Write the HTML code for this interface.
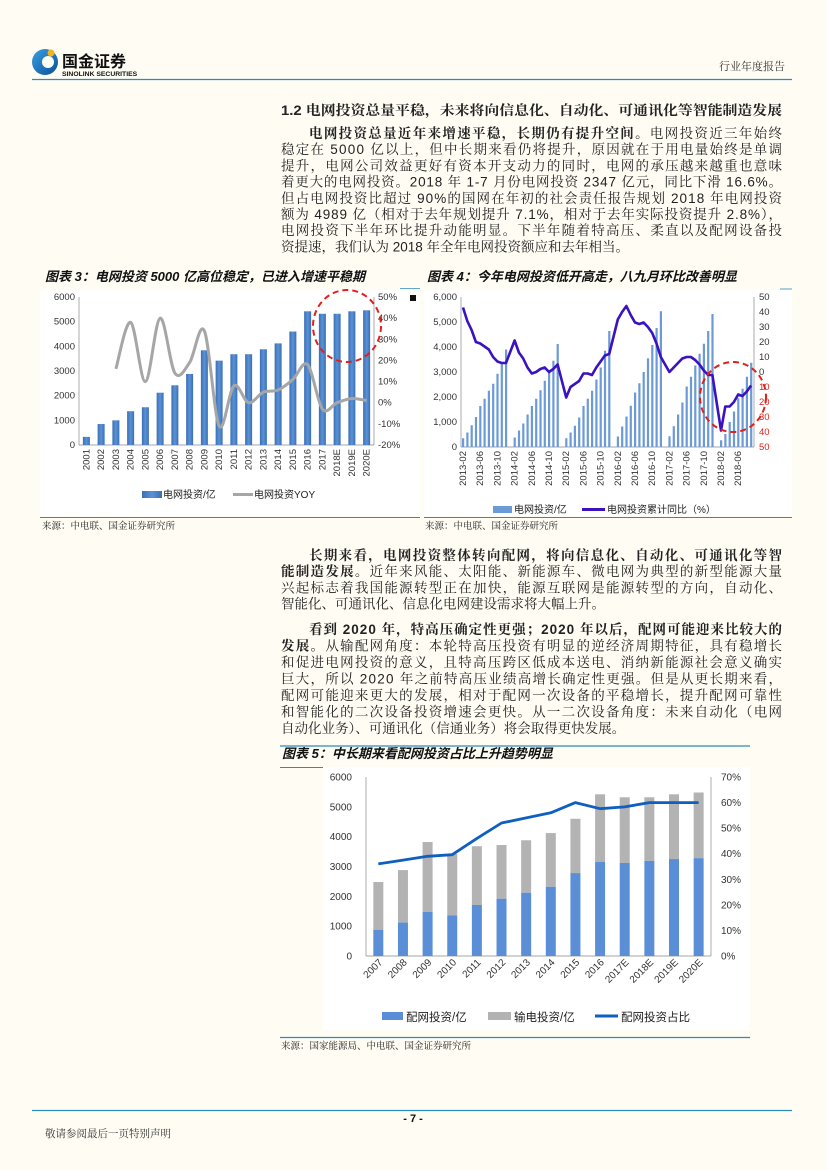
<!DOCTYPE html>
<html><head><meta charset="utf-8">
<style>
html,body{margin:0;padding:0;background:#fffcf3;}
svg{display:block;}
text{font-family:"Liberation Sans","Noto Sans CJK SC",sans-serif;}
.s{font-family:"Noto Serif CJK SC","Liberation Serif",serif;}
.p{font-family:"Liberation Sans","Noto Serif CJK SC",serif;font-size:13.5px;fill:#222;}
.b{font-weight:bold;}
.ax{font-size:9.5px;fill:#333;}
.ax5{font-size:10px;fill:#333;}
.tt{font-family:"Liberation Sans","Noto Sans CJK SC",sans-serif;font-weight:bold;font-style:italic;font-size:13px;fill:#111;}
</style></head><body>
<svg id="pg" width="827" height="1170" viewBox="0 0 827 1170" xmlns="http://www.w3.org/2000/svg">
<rect width="827" height="1170" fill="#fffcf3"/>
<!-- header -->
<defs><linearGradient id="lg" x1="0" y1="0" x2="1" y2="1"><stop offset="0" stop-color="#3aa0e0"/><stop offset="1" stop-color="#0a4f9a"/></linearGradient>
<linearGradient id="bg3" x1="0" y1="0" x2="1" y2="0"><stop offset="0" stop-color="#3a6fb5"/><stop offset="0.5" stop-color="#5b92d6"/><stop offset="1" stop-color="#3a6fb5"/></linearGradient></defs>
<circle cx="45" cy="62" r="13" fill="url(#lg)"/>
<circle cx="48" cy="62" r="6" fill="#fffcf3"/>
<circle cx="51" cy="53" r="3.5" fill="#f2b31b"/>
<text x="62" y="67" font-size="16" font-weight="bold" fill="#111">国金证券</text>
<text x="62" y="76" font-size="6.8" font-weight="bold" fill="#111">SINOLINK SECURITIES</text>
<text x="785" y="70" font-size="11" text-anchor="end" class="s" fill="#333">行业年度报告</text>
<line x1="32" y1="79.5" x2="792" y2="79.5" stroke="#2a8dc0" stroke-width="1.2"/>

<!-- top text -->
<text x="281" y="115" class="p b" textLength="501" lengthAdjust="spacingAndGlyphs">1.2 电网投资总量平稳，未来将向信息化、自动化、可通讯化等智能制造发展</text>
<text x="309" y="138" class="p" textLength="473" lengthAdjust="spacing"><tspan class="b">电网投资总量近年来增速平稳，长期仍有提升空间。</tspan>电网投资近三年始终</text>
<text x="281" y="154.2" class="p" textLength="501" lengthAdjust="spacing">稳定在 5000 亿以上，但中长期来看仍将提升，原因就在于用电量始终是单调</text>
<text x="281" y="170.4" class="p" textLength="501" lengthAdjust="spacing">提升，电网公司效益更好有资本开支动力的同时，电网的承压越来越重也意味</text>
<text x="281" y="186.6" class="p" textLength="501" lengthAdjust="spacing">着更大的电网投资。2018 年 1-7 月份电网投资 2347 亿元，同比下滑 16.6%。</text>
<text x="281" y="202.8" class="p" textLength="501" lengthAdjust="spacing">但占电网投资比超过 90%的国网在年初的社会责任报告规划 2018 年电网投资</text>
<text x="281" y="219" class="p" textLength="501" lengthAdjust="spacing">额为 4989 亿（相对于去年规划提升 7.1%，相对于去年实际投资提升 2.8%），</text>
<text x="281" y="235.2" class="p" textLength="501" lengthAdjust="spacing">电网投资下半年环比提升动能明显。下半年随着特高压、柔直以及配网设备投</text>
<text x="281" y="251.4" class="p">资提速，我们认为 2018 年全年电网投资额应和去年相当。</text>

<!-- chart 3 & 4 frames -->
<rect x="40" y="290" width="380" height="226" fill="#fff"/>
<rect x="424" y="290" width="368" height="226" fill="#fff"/>
<text x="45" y="281" class="tt">图表 3：电网投资 5000 亿高位稳定，已进入增速平稳期</text>
<text x="427" y="281" class="tt">图表 4：今年电网投资低开高走，八九月环比改善明显</text>
<line x1="400" y1="288.5" x2="420" y2="288.5" stroke="#2a8dc0" stroke-width="0.8"/>
<line x1="780" y1="289" x2="792" y2="289" stroke="#2a8dc0" stroke-width="0.8"/>
<line x1="40" y1="517.5" x2="420" y2="517.5" stroke="#2a8dc0" stroke-width="1"/>
<line x1="424" y1="517.5" x2="792" y2="517.5" stroke="#2a8dc0" stroke-width="1"/>
<text x="42" y="529" font-size="9.5" class="s" fill="#222">来源：中电联、国金证券研究所</text>
<text x="425" y="529" font-size="9.5" class="s" fill="#222">来源：中电联、国金证券研究所</text>

<!-- chart3 axes -->
<line x1="79" y1="297" x2="79" y2="445" stroke="#888" stroke-width="0.7"/>
<line x1="79" y1="445" x2="374" y2="445" stroke="#888" stroke-width="0.7"/>
<line x1="374" y1="297" x2="374" y2="445" stroke="#888" stroke-width="0.7"/>
<g class="ax" text-anchor="end">
<text x="75" y="300">6000</text><text x="75" y="324.7">5000</text><text x="75" y="349.3">4000</text><text x="75" y="374">3000</text><text x="75" y="398.7">2000</text><text x="75" y="423.3">1000</text><text x="75" y="448">0</text>
</g>
<g class="ax">
<text x="378" y="300">50%</text><text x="378" y="321.1">40%</text><text x="378" y="342.3">30%</text><text x="378" y="363.4">20%</text><text x="378" y="384.6">10%</text><text x="378" y="405.7">0%</text><text x="378" y="426.9">-10%</text><text x="378" y="448">-20%</text>
</g>
<rect x="410" y="295" width="6" height="6" fill="#111"/>
<g id="c3"></g>
<g class="ax" text-anchor="end" font-size="9">
<text transform="translate(89.4,449) rotate(-90)">2001</text>
<text transform="translate(104.1,449) rotate(-90)">2002</text>
<text transform="translate(118.9,449) rotate(-90)">2003</text>
<text transform="translate(133.6,449) rotate(-90)">2004</text>
<text transform="translate(148.4,449) rotate(-90)">2005</text>
<text transform="translate(163.1,449) rotate(-90)">2006</text>
<text transform="translate(177.9,449) rotate(-90)">2007</text>
<text transform="translate(192.6,449) rotate(-90)">2008</text>
<text transform="translate(207.4,449) rotate(-90)">2009</text>
<text transform="translate(222.1,449) rotate(-90)">2010</text>
<text transform="translate(236.9,449) rotate(-90)">2011</text>
<text transform="translate(251.6,449) rotate(-90)">2012</text>
<text transform="translate(266.4,449) rotate(-90)">2013</text>
<text transform="translate(281.1,449) rotate(-90)">2014</text>
<text transform="translate(295.9,449) rotate(-90)">2015</text>
<text transform="translate(310.6,449) rotate(-90)">2016</text>
<text transform="translate(325.4,449) rotate(-90)">2017</text>
<text transform="translate(340.1,449) rotate(-90)">2018E</text>
<text transform="translate(354.9,449) rotate(-90)">2019E</text>
<text transform="translate(369.6,449) rotate(-90)">2020E</text>
</g>
<ellipse cx="347" cy="326" rx="34" ry="36" fill="none" stroke="#e0201b" stroke-width="2" stroke-dasharray="6,4"/>
<rect x="142" y="491" width="20" height="7" fill="url(#bg3)"/>
<text x="163" y="498" font-size="10" fill="#222">电网投资/亿</text>
<line x1="233" y1="494.5" x2="253" y2="494.5" stroke="#a6a6a6" stroke-width="3"/>
<text x="254" y="498" font-size="10" fill="#222">电网投资YOY</text>

<!-- chart4 axes -->
<line x1="461" y1="297" x2="461" y2="447" stroke="#888" stroke-width="0.7"/>
<line x1="461" y1="447" x2="754" y2="447" stroke="#888" stroke-width="0.7"/>
<line x1="754" y1="297" x2="754" y2="447" stroke="#888" stroke-width="0.7"/>
<g class="ax" text-anchor="end">
<text x="457" y="300">6,000</text><text x="457" y="325">5,000</text><text x="457" y="350">4,000</text><text x="457" y="375">3,000</text><text x="457" y="400">2,000</text><text x="457" y="425">1,000</text><text x="457" y="450">0</text>
</g>
<g class="ax">
<text x="759" y="300">50</text><text x="759" y="315">40</text><text x="759" y="330">30</text><text x="759" y="345">20</text><text x="759" y="360">10</text><text x="759" y="375">0</text>
</g>
<g class="ax" fill="#e0201b" style="fill:#e0201b">
<text x="759" y="390">10</text><text x="759" y="405">20</text><text x="759" y="420">30</text><text x="759" y="435">40</text><text x="759" y="450">50</text>
</g>
<g id="c4"></g>
<g class="ax" text-anchor="end" font-size="9">
<text transform="translate(466,451) rotate(-90)">2013-02</text>
<text transform="translate(483.2,451) rotate(-90)">2013-06</text>
<text transform="translate(500.4,451) rotate(-90)">2013-10</text>
<text transform="translate(517.6,451) rotate(-90)">2014-02</text>
<text transform="translate(534.8,451) rotate(-90)">2014-06</text>
<text transform="translate(552,451) rotate(-90)">2014-10</text>
<text transform="translate(569.2,451) rotate(-90)">2015-02</text>
<text transform="translate(586.4,451) rotate(-90)">2015-06</text>
<text transform="translate(603.6,451) rotate(-90)">2015-10</text>
<text transform="translate(620.8,451) rotate(-90)">2016-02</text>
<text transform="translate(638,451) rotate(-90)">2016-06</text>
<text transform="translate(655.2,451) rotate(-90)">2016-10</text>
<text transform="translate(672.4,451) rotate(-90)">2017-02</text>
<text transform="translate(689.6,451) rotate(-90)">2017-06</text>
<text transform="translate(706.8,451) rotate(-90)">2017-10</text>
<text transform="translate(724,451) rotate(-90)">2018-02</text>
<text transform="translate(741.2,451) rotate(-90)">2018-06</text>
</g>
<ellipse cx="733" cy="397" rx="33" ry="35" fill="none" stroke="#e0201b" stroke-width="2" stroke-dasharray="6,4"/>
<rect x="493" y="506" width="19" height="7" fill="#6b9ad6"/>
<text x="514" y="513" font-size="10" fill="#222">电网投资/亿</text>
<line x1="582" y1="509.5" x2="605" y2="509.5" stroke="#3a12c0" stroke-width="3"/>
<text x="607" y="513" font-size="10" fill="#222">电网投资累计同比（%）</text>

<!-- middle text -->
<text x="309" y="560" class="p b" textLength="473" lengthAdjust="spacing">长期来看，电网投资整体转向配网，将向信息化、自动化、可通讯化等智</text>
<text x="281" y="576.2" class="p" textLength="501" lengthAdjust="spacing"><tspan class="b">能制造发展。</tspan>近年来风能、太阳能、新能源车、微电网为典型的新型能源大量</text>
<text x="281" y="592.4" class="p" textLength="501" lengthAdjust="spacing">兴起标志着我国能源转型正在加快，能源互联网是能源转型的方向，自动化、</text>
<text x="281" y="608.6" class="p">智能化、可通讯化、信息化电网建设需求将大幅上升。</text>
<text x="309" y="634" class="p b" textLength="473" lengthAdjust="spacing">看到 2020 年，特高压确定性更强；2020 年以后，配网可能迎来比较大的</text>
<text x="281" y="650.5" class="p" textLength="501" lengthAdjust="spacing"><tspan class="b">发展。</tspan>从输配网角度：本轮特高压投资有明显的逆经济周期特征，具有稳增长</text>
<text x="281" y="667" class="p" textLength="501" lengthAdjust="spacing">和促进电网投资的意义，且特高压跨区低成本送电、消纳新能源社会意义确实</text>
<text x="281" y="683.5" class="p" textLength="501" lengthAdjust="spacing">巨大，所以 2020 年之前特高压业绩高增长确定性更强。但是从更长期来看，</text>
<text x="281" y="700" class="p" textLength="501" lengthAdjust="spacing">配网可能迎来更大的发展，相对于配网一次设备的平稳增长，提升配网可靠性</text>
<text x="281" y="716.5" class="p" textLength="501" lengthAdjust="spacing">和智能化的二次设备投资增速会更快。从一二次设备角度：未来自动化（电网</text>
<text x="281" y="733" class="p">自动化业务）、可通讯化（信通业务）将会取得更快发展。</text>

<!-- chart 5 -->
<line x1="280" y1="746" x2="750" y2="746" stroke="#2a8dc0" stroke-width="1.2"/>
<text x="282" y="758" class="tt">图表 5：中长期来看配网投资占比上升趋势明显</text>
<line x1="280" y1="767.5" x2="323" y2="767.5" stroke="#2a8dc0" stroke-width="1"/>
<rect x="323" y="767" width="427" height="263" fill="#fff"/>
<line x1="280" y1="1037.5" x2="750" y2="1037.5" stroke="#2a8dc0" stroke-width="1.2"/>
<text x="281" y="1049" font-size="9.5" class="s" fill="#222">来源：国家能源局、中电联、国金证券研究所</text>
<line x1="366" y1="777" x2="366" y2="956" stroke="#888" stroke-width="0.7"/>
<line x1="366" y1="956" x2="711" y2="956" stroke="#888" stroke-width="0.7"/>
<line x1="711" y1="777" x2="711" y2="956" stroke="#888" stroke-width="0.7"/>
<g class="ax5" text-anchor="end">
<text x="352" y="780.5">6000</text><text x="352" y="810.3">5000</text><text x="352" y="840.2">4000</text><text x="352" y="870">3000</text><text x="352" y="899.8">2000</text><text x="352" y="929.7">1000</text><text x="352" y="959.5">0</text>
</g>
<g class="ax5">
<text x="721" y="780.5">70%</text><text x="721" y="806">60%</text><text x="721" y="831.6">50%</text><text x="721" y="857.2">40%</text><text x="721" y="882.8">30%</text><text x="721" y="908.3">20%</text><text x="721" y="933.9">10%</text><text x="721" y="959.5">0%</text>
</g>
<g id="c5"></g>
<g class="ax5" text-anchor="end">
<text transform="translate(383,963) rotate(-45)">2007</text>
<text transform="translate(407.6,963) rotate(-45)">2008</text>
<text transform="translate(432.2,963) rotate(-45)">2009</text>
<text transform="translate(456.9,963) rotate(-45)">2010</text>
<text transform="translate(481.5,963) rotate(-45)">2011</text>
<text transform="translate(506.2,963) rotate(-45)">2012</text>
<text transform="translate(530.8,963) rotate(-45)">2013</text>
<text transform="translate(555.4,963) rotate(-45)">2014</text>
<text transform="translate(580.1,963) rotate(-45)">2015</text>
<text transform="translate(604.7,963) rotate(-45)">2016</text>
<text transform="translate(629.4,963) rotate(-45)">2017E</text>
<text transform="translate(654,963) rotate(-45)">2018E</text>
<text transform="translate(678.7,963) rotate(-45)">2019E</text>
<text transform="translate(703.3,963) rotate(-45)">2020E</text>
</g>
<rect x="382" y="1012" width="21" height="8" fill="#5a8fd8"/>
<text x="406" y="1021" font-size="11.5" fill="#222">配网投资/亿</text>
<rect x="488" y="1012" width="23" height="8" fill="#b3b3b3"/>
<text x="514" y="1021" font-size="11.5" fill="#222">输电投资/亿</text>
<line x1="595" y1="1016" x2="618" y2="1016" stroke="#0f5fc0" stroke-width="3"/>
<text x="621" y="1021" font-size="11.5" fill="#222">配网投资占比</text>

<!-- footer -->
<line x1="32" y1="1110.5" x2="792" y2="1110.5" stroke="#2a8dc0" stroke-width="1.2"/>
<text x="413" y="1122" font-size="11" font-weight="bold" text-anchor="middle" fill="#111">- 7 -</text>
<text x="45" y="1137" font-size="10.5" class="s" fill="#333">敬请参阅最后一页特别声明</text>
</svg>
<script>
function smooth(pts){var d="M"+pts[0][0]+","+pts[0][1];for(var i=0;i<pts.length-1;i++){var p0=pts[i-1]||pts[i],p1=pts[i],p2=pts[i+1],p3=pts[i+2]||p2;var c1x=p1[0]+(p2[0]-p0[0])/6,c1y=p1[1]+(p2[1]-p0[1])/6,c2x=p2[0]-(p3[0]-p1[0])/6,c2y=p2[1]-(p3[1]-p1[1])/6;d+=" C"+c1x+","+c1y+" "+c2x+","+c2y+" "+p2[0]+","+p2[1];}return d;}
var s="";
var v3=[330,850,1000,1370,1530,2120,2420,2880,3840,3420,3680,3680,3880,4120,4600,5420,5320,5320,5420,5460];
var y3=[null,null,16,38,10,40,14,19,34,-11,8,0,5,6,11,18,-3,0,2,1];
var pts=[];
for(var i=0;i<20;i++){var cx=79+14.75*(i+0.5);var h=v3[i]*148/6000;s+='<rect x="'+(cx-3.5)+'" y="'+(445-h)+'" width="7" height="'+h+'" fill="url(#bg3)"/>';if(y3[i]!==null)pts.push([cx,402.7-y3[i]*2.114]);}
s+='<path d="'+smooth(pts)+'" fill="none" stroke="#a6a6a6" stroke-width="3"/>';
document.getElementById("c3").innerHTML=s;
// chart4
var bars=[[350,580,870,1200,1640,1930,2250,2530,2930,3350,3900],[380,660,940,1300,1640,1930,2270,2650,3050,3450,4120],[350,580,850,1180,1640,1930,2250,2700,3180,3850,4640],[420,820,1220,1650,2180,2550,3000,3550,4080,4760,5430],[430,830,1300,1780,2420,2810,3260,3730,4130,4640,5320],[270,520,1000,1420,1950,2330,2810,3370]];
var yo=[[43,34,28,20,19,17,15,10,7,6,6],[21,13,9,3,-1,0,2,3,0,2,5],[-17,-10,-8,-6,-1,-1,-2,3,7,11,12],[35,40,44,38,33,32,33,30,26,19,10],[0,3,6,9,10,10,8,5,1,-2,-2],[-39,-23,-23,-20,-15,-16,-13,-9]];
s="";var lp=[];
for(var yr=0;yr<6;yr++){for(var m=0;m<bars[yr].length;m++){var idx=yr*12+m;var x=463+4.3*idx;var h=bars[yr][m]*150/6000;s+='<rect x="'+(x-1)+'" y="'+(447-h)+'" width="2.2" height="'+h+'" fill="#6b9ad6"/>';lp.push(x.toFixed(1)+","+(372-yo[yr][m]*1.5).toFixed(1));}}
s+='<polyline points="'+lp.join(" ")+'" fill="none" stroke="#3a12c0" stroke-width="2.6" stroke-linejoin="round"/>';
document.getElementById("c4").innerHTML=s;
// chart5
var dist=[880,1120,1480,1360,1710,1920,2120,2320,2780,3150,3120,3190,3250,3280];
var tot=[2480,2880,3820,3420,3680,3720,3880,4120,4600,5420,5320,5320,5420,5480];
var r=[36,37.5,39,39.6,46,52,54,56,60,57.6,58.3,60,60,60];
s="";lp=[];
for(var i=0;i<14;i++){var cx=366+24.64*(i+0.5);var ht=tot[i]*179/6000,hd=dist[i]*179/6000;s+='<rect x="'+(cx-5)+'" y="'+(956-ht)+'" width="10" height="'+(ht-hd)+'" fill="#b3b3b3"/>';s+='<rect x="'+(cx-5)+'" y="'+(956-hd)+'" width="10" height="'+hd+'" fill="#5a8fd8"/>';lp.push(cx.toFixed(1)+","+(956-r[i]*179/70).toFixed(1));}
s+='<polyline points="'+lp.join(" ")+'" fill="none" stroke="#0f5fc0" stroke-width="2.8" stroke-linejoin="round"/>';
document.getElementById("c5").innerHTML=s;
</script>
</body></html>
